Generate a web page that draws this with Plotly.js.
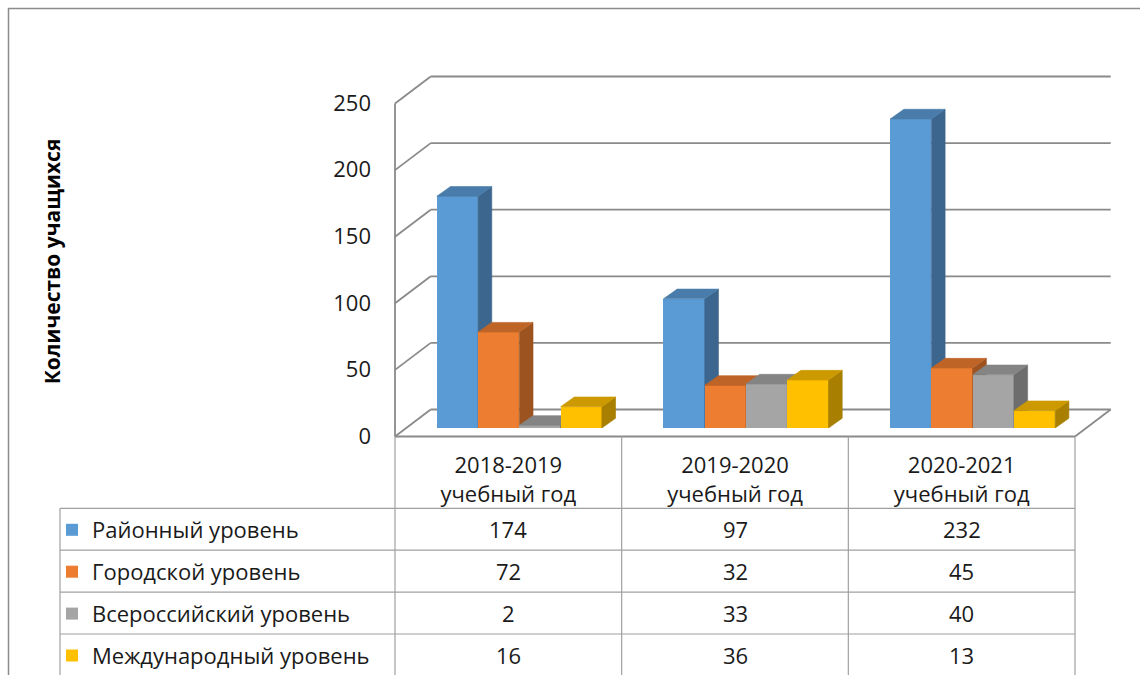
<!DOCTYPE html>
<html><head><meta charset="utf-8">
<script src="https://cdn.plot.ly/plotly-3.0.1.min.js"></script>
<style>html,body{margin:0;padding:0;background:#fff}#chart{width:1140px;height:675px}</style>
</head><body><div id="chart"></div>
<script>
// ---- data ----
const categories = ['2018-2019 учебный год', '2019-2020 учебный год', '2020-2021 учебный год'];
const seriesNames = ['Районный уровень', 'Городской уровень', 'Всероссийский уровень', 'Международный уровень'];
const rayonnyi = [174, 97, 232];
const gorodskoi = [72, 32, 45];
const vserossiiskii = [2, 33, 40];
const mezhdunarodnyi = [16, 36, 13];
const yTicks = [0, 50, 100, 150, 200, 250];
const yTitle = 'Количество учащихся';

const seriesValues = [rayonnyi, gorodskoi, vserossiiskii, mezhdunarodnyi];
const colors = ['#5B9BD5', '#ED7D31', '#A5A5A5', '#FFC000'];

// ---- geometry / style ----
const W = 1140, H = 675, M = {l: 406, r: 54, t: 95, b: 247, autoexpand: false};
const PW = W - M.l - M.r, PH = H - M.t - M.b;
const XR = [-0.5, 2.5], YR = [0, 250];
const pxPerX = PW / (XR[1] - XR[0]), pxPerY = PH / (YR[1] - YR[0]);
const BW = 0.182;
const dX = 13.7 / pxPerX, dY = 9.7 / pxPerY;
const FRONT = [-11, 8.5];
const BACK = [24.7, -18.5];
const FONT = '"Open Sans", Lato, sans-serif';
const GRID = '#8a8a8a', TLINE = '#a0a0a0';

function shade(hex, f) {
  const n = parseInt(hex.slice(1), 16);
  const r = Math.round(((n >> 16) & 255) * f), g = Math.round(((n >> 8) & 255) * f), b = Math.round((n & 255) * f);
  return 'rgb(' + r + ',' + g + ',' + b + ')';
}
function px(x) { return M.l + (x - XR[0]) * pxPerX; }
function py(v) { return M.t + PH - (v - YR[0]) * pxPerY; }
function PX(p) { return (p - M.l) / PW; }
function PY(p) { return (M.t + PH - p) / PH; }

// ---- traces ----
const traces = [];
for (let s = 0; s < seriesValues.length; s++) {
  const id = s === 0 ? '' : String(s + 1);
  const vals = seriesValues[s];
  const off = (s - 2) * BW;
  traces.push({
    type: 'bar', name: seriesNames[s], x: categories.map((c, j) => j), y: vals,
    width: BW, offset: off, xaxis: 'x' + id, yaxis: 'y' + id,
    marker: {color: colors[s], line: {width: 0}}, legendgroup: 'g' + s, showlegend: true,
    hovertemplate: '%{y}<extra>' + seriesNames[s] + '</extra>'
  });
  const sx = [], sy = [], tx = [], ty = [];
  vals.forEach((v, j) => {
    const xl = j + off, xr = xl + BW;
    sx.push(xr, xr, xr + dX, xr + dX, xr, null); sy.push(0, v, v + dY, dY, 0, null);
    tx.push(xl, xr, xr + dX, xl + dX, xl, null); ty.push(v, v, v + dY, v + dY, v, null);
  });
  const sideC = shade(colors[s], 0.66), topC = shade(colors[s], 0.8);
  traces.push({type: 'scatter', mode: 'lines', x: sx, y: sy, fill: 'toself', fillcolor: sideC,
    line: {width: 0.6, color: sideC}, xaxis: 'x' + id, yaxis: 'y' + id, showlegend: false, hoverinfo: 'skip', legendgroup: 'g' + s});
  traces.push({type: 'scatter', mode: 'lines', x: tx, y: ty, fill: 'toself', fillcolor: topC,
    line: {width: 0.6, color: topC}, xaxis: 'x' + id, yaxis: 'y' + id, showlegend: false, hoverinfo: 'skip', legendgroup: 'g' + s});
}

// ---- shapes: walls, floor, table, border ----
const shapes = [];
function line(x0, y0, x1, y1, color, width, layer) {
  shapes.push({type: 'line', xref: 'paper', yref: 'paper', x0: PX(x0), y0: PY(y0), x1: PX(x1), y1: PY(y1),
    line: {color: color, width: width}, layer: layer || 'below'});
}
const xL = px(XR[0]), xRt = px(XR[1]);
yTicks.forEach(v => {
  line(xL + BACK[0], py(v) + BACK[1], xRt + BACK[0], py(v) + BACK[1], GRID, 1.8);
  line(xL + FRONT[0], py(v) + FRONT[1], xL + BACK[0], py(v) + BACK[1], GRID, 1.8);
});
line(xL + FRONT[0], py(YR[0]) + FRONT[1], xL + FRONT[0], py(YR[1]) + FRONT[1], GRID, 1.8);
line(xL + FRONT[0], py(0) + FRONT[1], xRt + FRONT[0], py(0) + FRONT[1], GRID, 1.8);
line(xRt + FRONT[0], py(0) + FRONT[1], xRt + BACK[0], py(0) + BACK[1], GRID, 1.8);

// table
const rowTop = 508.3, rowH = 41.9, legendLeft = 60;
const floorY = py(0) + FRONT[1];
const tableRight = xRt + FRONT[0];
for (let k = 0; k <= categories.length; k++) {
  const x = px(XR[0] + k) + FRONT[0];
  line(x, floorY, x, H + 5, TLINE, 1.2, 'above');
}
line(legendLeft, rowTop, legendLeft, H + 5, TLINE, 1.2, 'above');
for (let r = 0; r <= seriesNames.length; r++) {
  line(legendLeft, rowTop + r * rowH, tableRight, rowTop + r * rowH, TLINE, 1.2, 'above');
}
// outer border
shapes.push({type: 'rect', xref: 'paper', yref: 'paper', x0: PX(8.5), y0: PY(8.5), x1: PX(W + 10), y1: PY(H + 10),
  line: {color: '#8c8c8c', width: 1.5}, fillcolor: 'rgba(0,0,0,0)', layer: 'below'});

// table values
const annotations = [];
seriesValues.forEach((vals, s) => {
  vals.forEach((v, j) => {
    annotations.push({xref: 'paper', yref: 'paper', x: PX(px(j) + FRONT[0]), y: PY(rowTop + (s + 0.5) * rowH),
      text: String(v), showarrow: false, xanchor: 'center', yanchor: 'middle',
      font: {family: FONT, size: 22, color: '#1a1a1a'}});
  });
});

const axisHidden = {range: XR, visible: false, fixedrange: true};
const layout = {
  width: W, height: H, margin: M,
  paper_bgcolor: '#ffffff', plot_bgcolor: 'rgba(0,0,0,0)',
  font: {family: FONT, size: 22, color: '#1a1a1a'},
  xaxis: {range: XR, tickvals: categories.map((c, j) => j), ticktext: categories.map(c => c.replace(' ', '<br>')),
    ticks: '', showgrid: false, zeroline: false, showline: false, fixedrange: true,
    ticklabelshift: -11, ticklabelstandoff: 22, tickfont: {family: FONT, size: 22, color: '#1a1a1a'}},
  yaxis: {range: YR, tickvals: yTicks, ticks: '', showgrid: false, zeroline: false, showline: false, fixedrange: true,
    ticklabelshift: 8, ticklabelstandoff: 34, tickfont: {family: FONT, size: 22, color: '#1a1a1a'},
    title: {text: yTitle, font: {family: FONT, size: 21, color: '#000', weight: 'bold'}, standoff: 266}},
  xaxis2: Object.assign({overlaying: 'x', anchor: 'y2'}, axisHidden),
  xaxis3: Object.assign({overlaying: 'x', anchor: 'y3'}, axisHidden),
  xaxis4: Object.assign({overlaying: 'x', anchor: 'y4'}, axisHidden),
  yaxis2: {overlaying: 'y', anchor: 'x2', range: YR, visible: false, fixedrange: true},
  yaxis3: {overlaying: 'y', anchor: 'x3', range: YR, visible: false, fixedrange: true},
  yaxis4: {overlaying: 'y', anchor: 'x4', range: YR, visible: false, fixedrange: true},
  showlegend: true,
  legend: {x: PX(52), xanchor: 'left', y: PY(509), yanchor: 'top', traceorder: 'grouped', tracegroupgap: 10.3,
    font: {family: FONT, size: 22, color: '#1a1a1a'}, bgcolor: 'rgba(0,0,0,0)', borderwidth: 0, itemclick: false, itemdoubleclick: false},
  shapes: shapes, annotations: annotations,
  bargap: 0, hovermode: 'closest'
};
Plotly.newPlot('chart', traces, layout, {displayModeBar: false});
</script></body></html>
